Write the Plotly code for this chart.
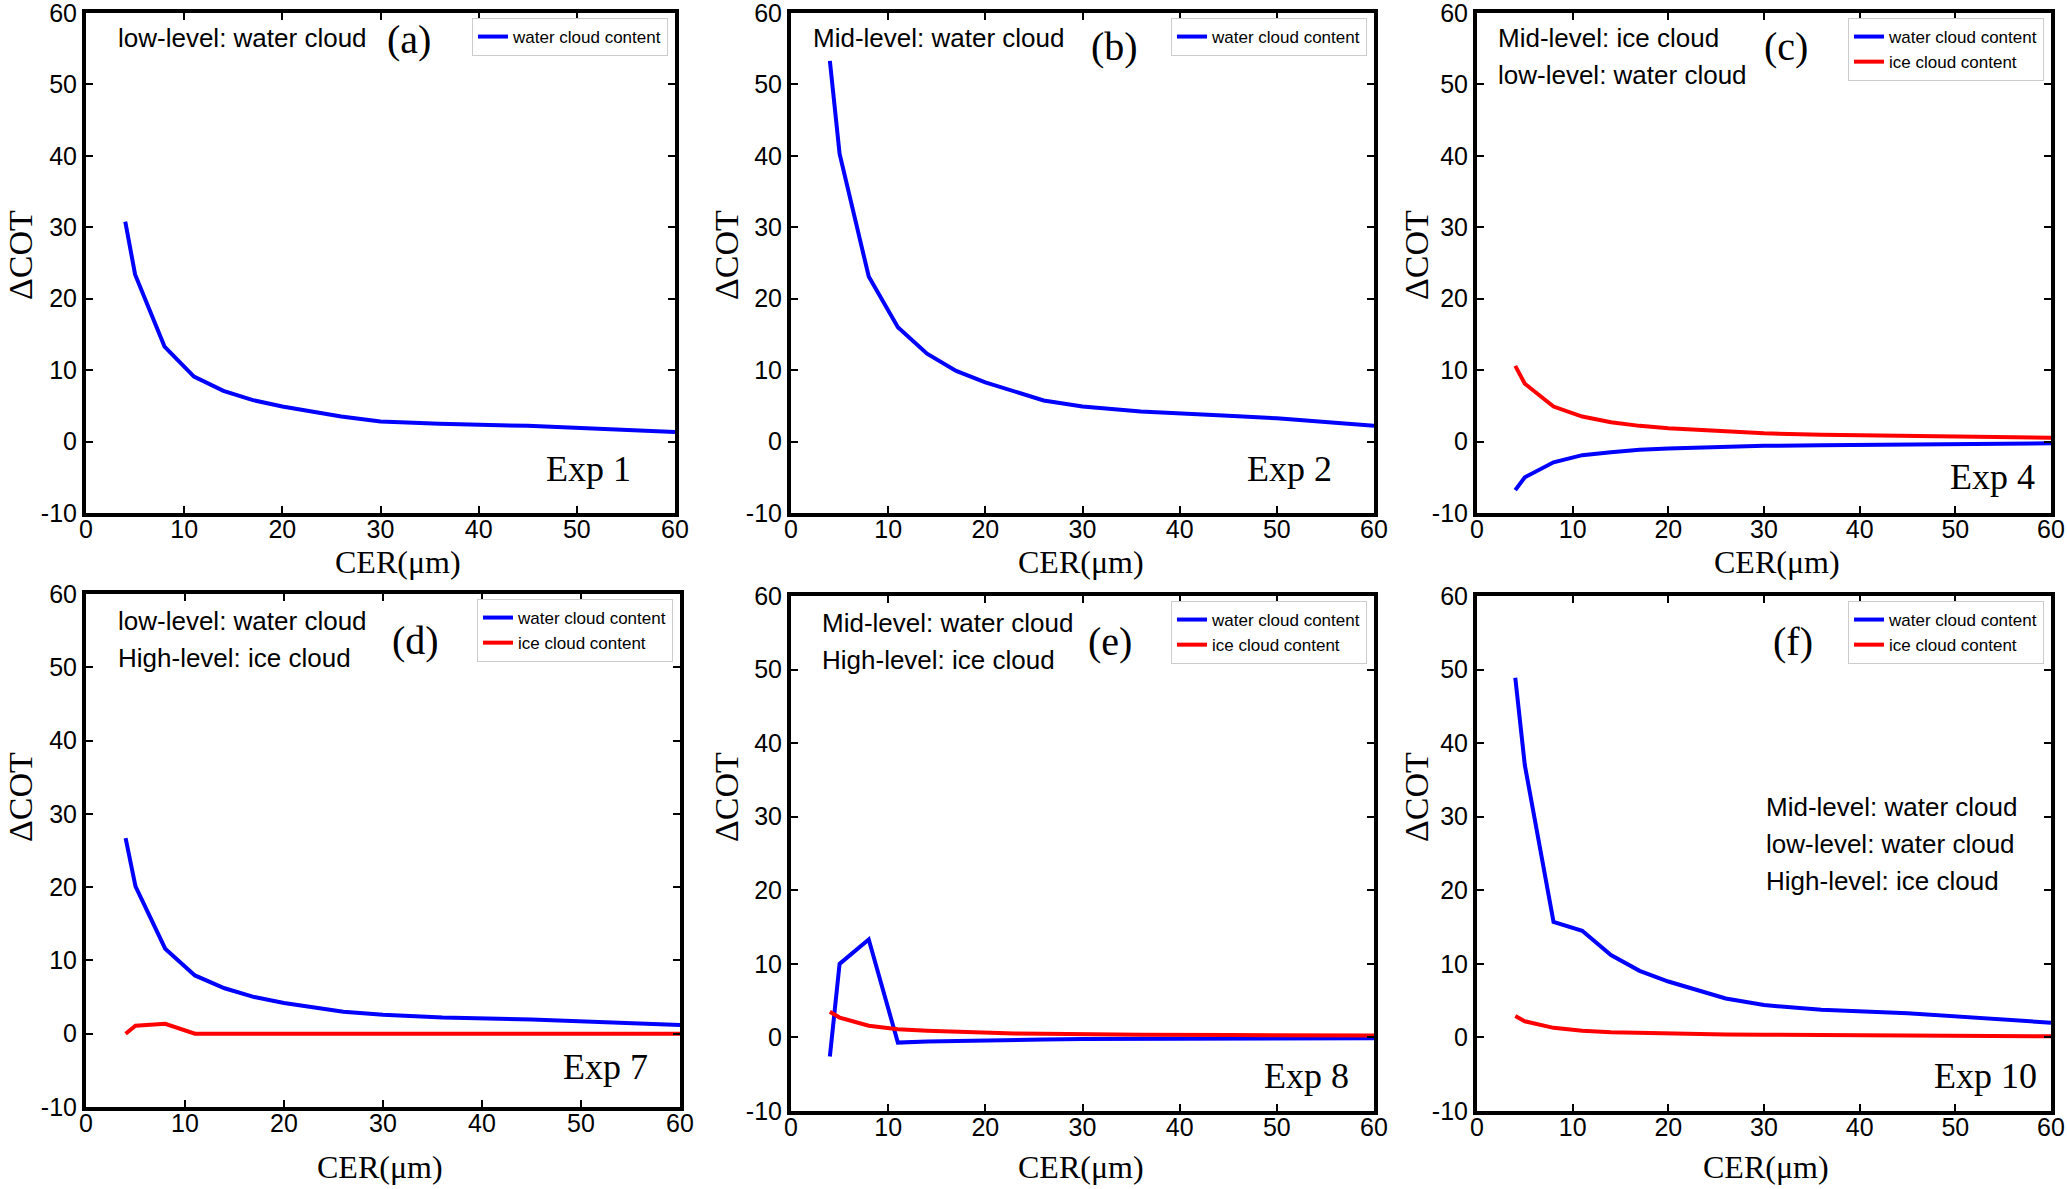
import plotly.graph_objects as go

W, H = 2067, 1189

cer = [4, 5, 8, 11, 14, 17, 20, 23, 26, 30, 36, 45, 50, 60]

a_water = [30.8, 23.4, 13.3, 9.1, 7.1, 5.8, 4.9, 4.2, 3.5, 2.8, 2.5, 2.2, 1.9, 1.35]
b_water = [53.3, 40.3, 23.1, 16.0, 12.3, 9.9, 8.3, 7.0, 5.75, 4.9, 4.2, 3.6, 3.25, 2.2]
c_water = [-6.8, -5.0, -2.9, -1.9, -1.5, -1.15, -0.97, -0.82, -0.7, -0.6, -0.5, -0.42, -0.38, -0.25]
c_ice = [10.6, 8.1, 4.9, 3.5, 2.7, 2.2, 1.85, 1.6, 1.4, 1.15, 0.97, 0.85, 0.8, 0.55]
d_water = [26.7, 20.1, 11.6, 7.95, 6.2, 5.0, 4.2, 3.6, 3.0, 2.6, 2.2, 1.95, 1.7, 1.2]
d_ice = [0.0, 1.1, 1.35, 0.0, 0.0, 0.0, 0.0, 0.0, 0.0, 0.0, 0.0, 0.0, 0.0, 0.0]
e_water = [-2.6, 10.0, 13.3, -0.7, -0.55, -0.45, -0.38, -0.32, -0.28, -0.22, -0.18, -0.15, -0.13, -0.1]
e_ice = [3.5, 2.7, 1.6, 1.1, 0.9, 0.75, 0.62, 0.55, 0.5, 0.42, 0.36, 0.32, 0.3, 0.25]
f_water = [48.9, 37.0, 15.7, 14.5, 11.2, 9.05, 7.6, 6.5, 5.3, 4.4, 3.75, 3.3, 2.85, 2.0]
f_ice = [2.9, 2.2, 1.3, 0.9, 0.7, 0.6, 0.5, 0.45, 0.4, 0.36, 0.3, 0.22, 0.2, 0.15]

x_ticks = [0, 10, 20, 30, 40, 50, 60]
y_ticks = [-10, 0, 10, 20, 30, 40, 50, 60]

panel_letters = ["(a)", "(b)", "(c)", "(d)", "(e)", "(f)"]
exp_labels = ["Exp 1", "Exp 2", "Exp 4", "Exp 7", "Exp 8", "Exp 10"]
panel_notes = [
    ["low-level: water cloud"],
    ["Mid-level: water cloud"],
    ["Mid-level: ice cloud", "low-level: water cloud"],
    ["low-level: water cloud", "High-level: ice cloud"],
    ["Mid-level: water cloud", "High-level: ice cloud"],
    ["Mid-level: water cloud", "low-level: water cloud", "High-level: ice cloud"],
]
water_name = "water cloud content"
ice_name = "ice cloud content"

panels_water = [a_water, b_water, c_water, d_water, e_water, f_water]
panels_ice = [None, None, c_ice, d_ice, e_ice, f_ice]

SANS = "Liberation Sans, Arial, sans-serif"
SERIF = "Liberation Serif, Times New Roman, serif"

# plot-area boxes in pixels: (left, right, top, bottom)
boxes = [
    (86, 675, 13, 513), (791, 1374, 13, 513), (1477, 2051, 13, 513),
    (86, 680, 594, 1107), (791, 1374, 596, 1111), (1477, 2051, 596, 1111),
]

def fx(p):
    return p / W

def fy(p):
    return 1 - p / H

fig = go.Figure()
layout = dict(width=W, height=H, margin=dict(l=0, r=0, t=0, b=0, autoexpand=False),
              paper_bgcolor="white", plot_bgcolor="white", showlegend=True,
              annotations=[])

for i in range(6):
    sfx = "" if i == 0 else str(i + 1)
    xa, ya = "x" + sfx, "y" + sfx
    lg = "legend" + sfx
    fig.add_trace(go.Scatter(x=cer, y=panels_water[i], mode="lines", name=water_name,
                             line=dict(color="#0000ff", width=4), xaxis=xa, yaxis=ya,
                             legend=lg, showlegend=True))
    if panels_ice[i] is not None:
        fig.add_trace(go.Scatter(x=cer, y=panels_ice[i], mode="lines", name=ice_name,
                                 line=dict(color="#ff0000", width=4), xaxis=xa, yaxis=ya,
                                 legend=lg, showlegend=True))
    l, r, t, b = boxes[i]
    common = dict(showline=True, linewidth=4, linecolor="black", mirror="ticks",
                  ticks="inside", ticklen=7, tickwidth=2, tickcolor="black",
                  showgrid=False, zeroline=False, automargin=False,
                  ticklabeloverflow="allow",
                  tickfont=dict(family=SANS, size=25, color="black"))
    layout["xaxis" + sfx] = dict(domain=[fx(l), fx(r)], anchor=ya, range=[0, 60],
                                 tickvals=x_ticks, ticktext=[str(v) for v in x_ticks],
                                 ticklabelstandoff=-9, **common)
    layout["yaxis" + sfx] = dict(domain=[fy(b), fy(t)], anchor=xa, range=[-10, 60],
                                 tickvals=y_ticks, ticktext=[str(v) for v in y_ticks], **common)
    layout[lg] = dict(x=fx(r - 7), y=fy(t + 5), xanchor="right", yanchor="top",
                      bgcolor="white", bordercolor="#cccccc", borderwidth=1,
                      font=dict(family=SANS, size=17, color="black"),
                      tracegroupgap=0, itemwidth=30)

anns = layout["annotations"]

def ann(text, x, y, xanchor, size, family, angle=0):
    anns.append(dict(text=text, x=fx(x), y=fy(y), xref="paper", yref="paper",
                     xanchor=xanchor, yanchor="middle", showarrow=False, textangle=angle,
                     font=dict(family=family, size=size, color="black")))

# notes: (left x, first y, line step)
note_pos = [(116, 38, 37), (811, 38, 37), (1496, 38, 37),
            (116, 621, 37), (820, 623, 37), (1764, 807, 37)]
letter_pos = [(409, 40), (1114, 47), (1786, 47), (415, 640), (1110, 641), (1793, 641)]
exp_pos = [(633, 469), (1334, 469), (2037, 477), (650, 1067), (1351, 1076), (2039, 1076)]
cot_pos = [(20, 255), (726, 255), (1416, 255), (20, 797), (726, 797), (1416, 797)]
cer_pos = [(398, 562), (1081, 562), (1777, 562), (380, 1167), (1081, 1167), (1766, 1167)]

for i in range(6):
    nx, ny, step = note_pos[i]
    for k, line in enumerate(panel_notes[i]):
        ann(line, nx, ny + k * step, "left", 26, SANS)
    ann(panel_letters[i], letter_pos[i][0], letter_pos[i][1], "center", 40, SERIF)
    ann(exp_labels[i], exp_pos[i][0], exp_pos[i][1], "right", 36, SERIF)
    ann("ΔCOT", cot_pos[i][0], cot_pos[i][1], "center", 34, SERIF, angle=-90)
    ann("CER(μm)", cer_pos[i][0], cer_pos[i][1], "center", 32, SERIF)

fig.update_layout(**layout)
fig.write_html("out.html", config={"displayModeBar": False},
               post_script="document.body.style.margin='0';document.body.style.overflow='hidden';")
